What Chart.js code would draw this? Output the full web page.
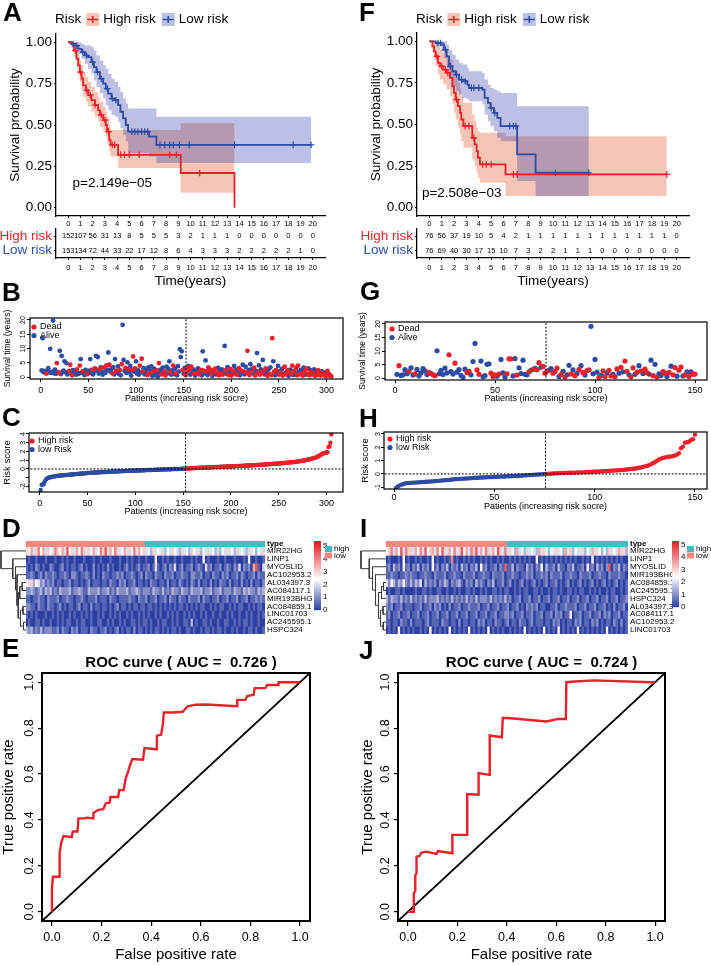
<!DOCTYPE html>
<html>
<head>
<meta charset="utf-8">
<script src="https://cdn.jsdelivr.net/npm/chart.js@4.4.1/dist/chart.umd.min.js"></script>
<style>
  body { margin: 0; background: #fff; }
  #fig { position: relative; width: 711px; height: 965px; overflow: hidden; background: #fff; }
  #fig canvas { position: absolute; }
  .tag { position: absolute; font: bold 26px "Liberation Sans", Arial, sans-serif; line-height: 26px; color: #000; }
</style>
</head>
<body>
<div id="fig"></div>
<script>
// ---------- Kaplan-Meier data (A: training, F: validation) ----------
const kmYears = [0,1,2,3,4,5,6,7,8,9,10,11,12,13,14,15,16,17,18,19,20];
const kmSurvTicks = [0, 0.25, 0.5, 0.75, 1];
const riskGroups = ['High risk', 'Low risk'];

const kmA_highT = [0,0.27,0.46,0.68,0.82,0.95,1.09,1.22,1.44,1.63,1.90,2.18,2.45,2.59,2.86,3.07,3.18,3.35,3.46,4.08,9.20,13.60];
const kmA_highS = [1,0.99,0.95,0.90,0.86,0.82,0.78,0.74,0.71,0.68,0.65,0.62,0.59,0.56,0.53,0.50,0.46,0.41,0.38,0.32,0.21,0];
const kmA_highUp = [1,1,1,0.97,0.93,0.89,0.86,0.82,0.79,0.76,0.73,0.70,0.67,0.64,0.61,0.58,0.55,0.50,0.47,0.47,0.51,0.51];
const kmA_highLo = [1,0.97,0.91,0.85,0.80,0.76,0.71,0.67,0.64,0.61,0.58,0.55,0.52,0.49,0.46,0.43,0.39,0.34,0.31,0.24,0.09,0.09];
const kmA_highCens = [0.6,1.0,1.5,1.8,2.2,2.7,3.0,3.3,3.6,3.8,4.3,4.6,5.0,5.8,8.3,8.85,10.75];

const kmA_lowT = [0,0.27,0.54,0.82,1.09,1.36,1.63,1.90,2.10,2.31,2.59,2.86,3.07,3.27,3.54,3.81,4.08,4.27,4.49,4.71,4.90,6.61,7.21,19.86];
const kmA_lowS = [1,0.99,0.98,0.96,0.94,0.92,0.91,0.88,0.85,0.82,0.78,0.75,0.72,0.69,0.66,0.65,0.62,0.58,0.54,0.50,0.46,0.43,0.38,0.38];
const kmA_lowUp = [1,1,1,1,0.99,0.98,0.98,0.97,0.95,0.92,0.89,0.86,0.84,0.81,0.78,0.76,0.73,0.70,0.66,0.63,0.60,0.60,0.55,0.55];
const kmA_lowLo = [1,0.97,0.96,0.93,0.90,0.87,0.84,0.81,0.77,0.73,0.69,0.66,0.62,0.59,0.56,0.55,0.52,0.48,0.44,0.40,0.33,0.31,0.27,0.27];
const kmA_lowCens = [0.4,0.7,1.2,1.5,2.0,2.4,2.7,3.2,3.6,3.9,5.2,5.45,5.7,6.0,6.25,6.5,7.5,7.9,8.3,8.6,9.1,9.9,13.6,18.4,19.86];

const kmF_highT = [0,0.24,0.38,0.51,0.70,0.86,1.13,1.40,1.67,1.86,1.99,2.13,2.31,2.48,2.58,2.75,3.47,3.66,3.82,3.93,4.09,6.16,19.20];
const kmF_highS = [1,0.97,0.94,0.91,0.87,0.85,0.83,0.81,0.78,0.73,0.69,0.65,0.61,0.57,0.53,0.49,0.42,0.38,0.34,0.30,0.26,0.20,0.20];
const kmF_highUp = [1,1,1,0.99,0.97,0.95,0.93,0.91,0.89,0.85,0.82,0.78,0.75,0.71,0.67,0.63,0.56,0.52,0.48,0.46,0.45,0.43,0.43];
const kmF_highLo = [1,0.93,0.89,0.85,0.80,0.77,0.74,0.71,0.67,0.62,0.57,0.53,0.48,0.44,0.40,0.36,0.29,0.25,0.21,0.18,0.15,0.07,0.07];
const kmF_highCens = [0.6,1.0,1.3,1.5,2.2,2.9,3.2,3.6,4.3,4.6,5.0,6.8,7.1,19.2];

const kmF_lowT = [0,0.51,0.97,1.18,1.40,1.59,1.86,2.13,2.40,2.66,3.07,3.20,4.28,4.47,4.74,4.95,5.22,5.49,5.76,7.10,8.59,12.90];
const kmF_lowS = [1,0.99,0.98,0.95,0.91,0.85,0.82,0.80,0.77,0.76,0.74,0.72,0.71,0.66,0.63,0.60,0.57,0.54,0.49,0.32,0.21,0.21];
const kmF_lowUp = [1,1,1,1,0.98,0.95,0.92,0.89,0.87,0.86,0.84,0.82,0.81,0.77,0.74,0.72,0.71,0.70,0.69,0.61,0.61,0.61];
const kmF_lowLo = [1,0.97,0.94,0.90,0.84,0.78,0.73,0.70,0.68,0.66,0.65,0.64,0.62,0.56,0.52,0.49,0.46,0.42,0.40,0.16,0.07,0.07];
const kmF_lowCens = [0.7,0.9,1.3,1.7,2.2,2.6,2.9,3.4,3.6,4.0,5.0,5.3,6.5,6.8,7.0,10.2,12.9];

// number at risk
const atRiskA_high = [152,107,56,31,13,8,5,5,5,3,2,1,1,1,0,0,0,0,0,0,0];
const atRiskA_low  = [153,134,72,44,33,22,17,12,8,6,4,3,3,3,2,2,2,2,2,1,0];
const atRiskF_high = [76,56,37,19,10,5,4,2,1,1,1,1,1,1,1,1,1,1,1,1,0];
const atRiskF_low  = [76,69,40,30,17,15,10,7,3,2,2,1,1,1,0,0,0,0,0,0,0];

// ---------- survival status per patient (B, G), sorted by risk score ----------
const survB = [2.3,13.6,1.7,2.1,1.4,1.2,1.8,3.1,1.6,9.9, 1.5,1.9,19.8,1.3,2.6,1.1,4.9,1.7,1.5,9.2,
  1.0,7.4,1.8,2.2,5.5,1.6,4.9,0.9,1.3,2.1, 4.3,1.7,0.6,2.4,1.2,1.9,0.8,2.7,1.4,1.1,
  4.0,6.3,1.5,2.0,1.3,0.7,2.5,1.8,1.0,1.6, 2.2,6.3,1.4,2.6,0.9,1.8,3.0,7.4,2.3,7.0,
  1.2,2.9,3.4,1.7,0.8,3.3,2.0,1.5,4.1,2.6, 8.6,4.3,1.9,2.7,1.3,3.5,0.9,6.3,2.2,1.6,
  3.7,1.1,2.4,0.6,4.5,18.3,6.0,2.1,3.2,1.4, 5.1,2.8,1.7,3.9,0.5,2.6,7.2,1.9,3.0,5.5,
  1.2,2.5,0.8,4.0,1.6,6.4,2.0,3.1,0.9,1.5, 2.7,0.7,3.4,1.3,2.2,3.7,0.4,1.8,2.9,0.6,
  1.1,2.4,0.3,4.9,1.7,2.6,0.9,3.3,1.4,2.0, 0.5,3.6,1.2,2.8,5.5,1.6,0.8,2.3,4.0,1.0,
  2.9,1.3,0.6,3.8,1.9,9.8,7.0,9.0,2.4,1.1,3.2,0.7,
  1.5,3.3,3.9,2.4,0.8,3.6,1.9,2.7,1.2,0.5, 2.1,1.4,3.0,0.9,1.7,2.5,0.6,9.0,2.2,1.3,
  5.8,2.0,0.7,3.4,1.6,2.6,1.0,0.4,2.3,1.8, 2.9,0.9,1.5,3.2,0.6,2.0,1.2,2.7,0.8,1.6,
  10.9,2.4,1.1,3.5,0.7,1.9,2.8,0.5,1.4,2.2, 3.9,1.0,2.6,0.8,1.7,3.1,0.6,2.3,1.3,4.3,
  2.0,0.9,3.6,1.5,9.2,2.5,0.7,4.5,1.8,2.9, 1.2,3.3,0.5,2.1,8.4,1.6,4.1,0.8,2.7,1.4,
  6.0,2.2,0.9,3.0,1.7,0.4,2.6,1.1,3.4,0.7, 13.6,5.5,1.9,0.6,2.4,1.3,3.9,0.8,2.0,1.5,
  2.8,0.5,1.2,3.6,0.9,1.8,2.3,0.4,1.6,2.6, 1.0,4.0,0.7,2.1,1.4,3.2,0.6,4.0,1.9,0.9,
  2.5,1.3,0.5,3.3,1.8,0.8,2.9,1.1,3.0,0.6, 1.7,2.3,0.9,1.4,2.7,0.4,1.9,0.7,2.4,1.2,
  1.6,0.5,2.0,1.0,0.8,1.5,0.3,1.3,2.1,0.6,0.9,0.4,0.2];
const deadB = ['0000010000','0000001010','0000000001','1010000100','1001000010','0001001000','0100010010',
  '0100100010','0010100010','0100011010','0001011000','0101000100','0101001001','1000010010','010000001001',
  '1101010010','0101010010','0101011010','1010101010','0100101101','0101010100','1001101010','0110010101',
  '0101010101','1010100101','0101101010','1101011101','0110101101','1011010110','1101101110111'].join('');
const lowCountB = 152;

const survG = [1.4,4.6,1.0,1.2,3.1,1.6,2.4,3.8,1.1,1.5, 3.2,0.8,1.9,3.5,2.7,1.3,2.0,1.7,1.2,0.9,
  10.1,1.6,2.9,1.3,3.7,1.9,8.6,2.4,1.5,5.5, 2.2,3.1,1.0,0.3,3.3,2.0,2.5,1.2,6.1,12.8,
  3.0,1.4,6.3,0.5,0.9,5.1,5.3,1.8,0.6,1.2, 0.7,1.5,6.9,1.9,0.4,1.6,7.1,7.1,0.8,7.2,
  1.1,3.8,1.7,6.6,1.4,1.2,2.3,2.9,3.2,3.6, 3.1,5.7,4.0,4.3,1.8,
  2.6,2.9,3.5,1.8,2.4,3.7,0.6,1.3,2.5,0.4, 1.2,4.7,1.5,3.0,0.9,1.7,3.1,4.6,2.0,1.1,
  2.8,3.0,19.1,1.6,6.9,2.2,0.3,1.0,2.7,0.6, 1.9,2.9,0.8,1.4,0.5,3.4,1.8,4.0,2.3,6.3,
  2.5,1.2,0.5,3.8,1.4,2.2,4.6,2.6,1.7,3.3, 2.0,1.5,6.6,0.9,5.1,0.4,1.6,1.0,2.4,1.8,
  0.6,2.1,4.4,1.2,3.9,0.7,2.9,4.1,0.8,1.1, 2.3,0.6,2.3,1.4,1.5];
const deadG = ['0100001001','0000001011','0000001001','0000011000','1100000111','0100011100','1000001010','11011',
  '1001110101','0010101010','1100001011','0110110101','1011010101','1001010011','0101101101','01011'].join('');
const lowCountG = 75;

// ---------- risk scores (C, H), sorted ----------
const riskC = [-2.40,-1.80,-1.77,-1.74,-1.50,-1.30,-1.15,-1.07,-1.01,-0.97,
  -0.94,-0.91,-0.89,-0.87,-0.85,-0.83,-0.81,-0.80,-0.78,-0.77, -0.76,-0.75,-0.73,-0.72,-0.71,-0.70,-0.69,-0.68,-0.67,-0.66,
  -0.65,-0.64,-0.63,-0.62,-0.61,-0.60,-0.59,-0.58,-0.57,-0.56, -0.55,-0.54,-0.53,-0.52,-0.51,-0.50,-0.49,-0.48,-0.47,-0.46,
  -0.45,-0.45,-0.44,-0.43,-0.43,-0.42,-0.41,-0.41,-0.40,-0.39, -0.39,-0.38,-0.37,-0.37,-0.36,-0.35,-0.35,-0.34,-0.34,-0.33,
  -0.33,-0.32,-0.31,-0.31,-0.30,-0.30,-0.29,-0.29,-0.28,-0.28, -0.27,-0.27,-0.26,-0.26,-0.25,-0.25,-0.24,-0.24,-0.23,-0.23,
  -0.22,-0.22,-0.21,-0.21,-0.20,-0.20,-0.20,-0.19,-0.19,-0.18, -0.18,-0.17,-0.17,-0.16,-0.16,-0.16,-0.15,-0.15,-0.14,-0.14,
  -0.13,-0.13,-0.13,-0.12,-0.12,-0.11,-0.11,-0.10,-0.10,-0.10, -0.09,-0.09,-0.08,-0.08,-0.07,-0.07,-0.07,-0.06,-0.06,-0.05,
  -0.05,-0.05,-0.04,-0.04,-0.03,-0.03,-0.03,-0.02,-0.02,-0.01, -0.01,-0.01,0.00,0.00,0.00,0.01,0.01,0.01,0.02,0.02,0.03,0.03,
  0.04,0.05,0.06,0.07,0.08,0.09,0.09,0.10,0.11,0.11, 0.12,0.12,0.13,0.13,0.14,0.14,0.15,0.15,0.16,0.16,
  0.17,0.17,0.18,0.18,0.19,0.19,0.20,0.20,0.21,0.21, 0.22,0.22,0.23,0.23,0.24,0.24,0.25,0.25,0.26,0.26,
  0.27,0.27,0.28,0.28,0.29,0.29,0.30,0.30,0.31,0.31, 0.32,0.32,0.33,0.33,0.34,0.34,0.35,0.35,0.36,0.36,
  0.37,0.37,0.38,0.39,0.39,0.40,0.40,0.41,0.42,0.42, 0.43,0.44,0.44,0.45,0.46,0.46,0.47,0.48,0.48,0.49,
  0.50,0.50,0.51,0.52,0.53,0.53,0.54,0.55,0.56,0.56, 0.57,0.58,0.59,0.59,0.60,0.61,0.62,0.63,0.64,0.65,
  0.66,0.67,0.68,0.69,0.70,0.71,0.72,0.73,0.74,0.75, 0.76,0.77,0.78,0.79,0.81,0.82,0.84,0.85,0.87,0.89,
  0.91,0.93,0.95,0.97,0.99,1.01,1.03,1.05,1.08,1.10, 1.13,1.16,1.19,1.22,1.25,1.29,1.33,1.37,1.42,1.48,
  1.55,1.62,1.70,1.76,1.80,1.83,1.86,1.88,1.91,2.50,2.60,3.00,3.95];
const lowCountC = 152;
const riskH = [-1.05,-0.92,-0.84,-0.79,-0.74,-0.70,-0.68,-0.67,-0.66,-0.65, -0.64,-0.63,-0.62,-0.61,-0.60,-0.59,-0.58,-0.57,-0.56,-0.55,
  -0.53,-0.52,-0.50,-0.49,-0.47,-0.46,-0.45,-0.43,-0.42,-0.40, -0.39,-0.38,-0.37,-0.36,-0.35,-0.34,-0.33,-0.32,-0.31,-0.30,
  -0.29,-0.28,-0.27,-0.27,-0.26,-0.25,-0.24,-0.24,-0.23,-0.22, -0.21,-0.21,-0.20,-0.19,-0.19,-0.18,-0.17,-0.17,-0.16,-0.16,
  -0.15,-0.14,-0.13,-0.12,-0.11,-0.10,-0.09,-0.08,-0.07,-0.06, -0.05,-0.04,-0.03,-0.02,-0.01,
  0.00,0.01,0.02,0.03,0.04,0.05,0.06,0.06,0.07,0.08, 0.08,0.09,0.09,0.10,0.10,0.11,0.11,0.12,0.12,0.13,
  0.14,0.15,0.15,0.16,0.17,0.18,0.18,0.19,0.20,0.21, 0.22,0.23,0.24,0.25,0.26,0.27,0.28,0.29,0.30,0.31,
  0.33,0.35,0.37,0.39,0.41,0.43,0.46,0.49,0.53,0.57, 0.60,0.65,0.72,0.80,0.88,0.98,1.08,1.15,1.20,1.24,
  1.27,1.29,1.31,1.34,1.38,1.45,1.55,1.93,2.05,2.35, 2.38,2.42,2.55,2.60,2.95];
const lowCountH = 75;

const patientTicksB = [0, 50, 100, 150, 200, 250, 300];
const patientTicksG = [0, 50, 100, 150];
const survTimeTicks = [0, 5, 10, 15, 20];
const riskTicksC = [-2, -1, 0, 1, 2, 3, 4];
const riskTicksH = [-1, 0, 1, 2, 3];

// ---------- heatmaps (D, I): one digit per patient block, value = digit / 2 ----------
const genesD = ['MIR22HG','LINP1','MYOSLID','AC102953.2','AL034397.3','AC084117.1','MIR193BHG','AC084859.1','LINC01703','AC245595.1','HSPC324'];
const heatD = [
  ['6574685746','5486574956','4758646574','5869475864','5746584756','4536454635','4654364536','5463546453','6354645364','5436453546'],
  ['0100100010','0010010100','1000100010','0100010001','0010100100','1000500101','0010010001','0100501000','1001000100','0105001001'],
  ['1010210100','2100120101','1012010020','1010201001','0120101201','1201410120','2140120112','0121041201','1201210214','0212079104'],
  ['1121012021','1210112102','2101121020','1021101121','2011210120','2110211021','1201121102','2112011021','1021201120','2101120211'],
  ['5463542312','1201101120','1101012011','1011021102','1201120110','1021101102','0110210102','1020110201','0211020110','2010201102'],
  ['2232123132','3121322231','2232113222','3122312132','2231223212','2213221312','1322132213','2223122312','2312221322','1323221323'],
  ['1101121102','1112011211','0112101112','0111021101','1112110211','2011201120','2110211021','1120211011','2011201120','1120112121'],
  ['2211021102','1101201011','0120110201','1011010120','1101011011','0110101010','1010110101','0101100101','0110010101','1001010110'],
  ['1010100010','0101010010','1001010100','1010010101','0010100101','0100101001','0101001010','1001010010','0100101001','0010100101'],
  ['0100110100','1001010110','0101100100','1100101001','0100110101','1010010110','0101001103','0100110100','1001100101','0110100100'],
  ['3231213122','2112021102','1201110211','0112010120','1011020110','1010110101','0110100110','1001011010','1101001010','0101101001']
].map(r => r.join(''));
const genesI = ['MIR22HG','LINP1','MYOSLID','MIR193BHG','AC084859.1','AC245595.1','HSPC324','AL034397.3','AC084117.1','AC102953.2','LINC01703'];
const heatI = [
  ['5684759486','6475849567','4859647584','6957486947','5864759648','4653745364','5437465354','6453746354','4635474653','5364547463'],
  ['0100010501','0010100105','0100101801','0010101001','0101001010','0101010101','0050101010','1010101010','0101050101','0101010100'],
  ['1203120512','0213021205','1202130212','0312021305','1201120219','1130211031','2021503112','0311021301','1205120312','0290213021'],
  ['1121101121','2110112110','2111201121','1021112011','2110211120','1121101121','2011212021','1120112110','2111201121','1021112110'],
  ['4253132521','3132403121','2021320212','3102120312','1021301120','1201012010','1201012011','2010120101','2010120101','2010120101'],
  ['0100110100','0010011010','0110010010','1001101001','0100110101','1001010110','0110100101','1010011010','1100101010','0101100101'],
  ['3132213121','3121213122','2312121312','1213121312','2213121213','1201120112','0112011201','1201120112','0112011201','1201120112'],
  ['2120112011','1011201120','2120102011','2011211120','1120112011','2011201021','2120110011','2011211120','1120112011','2010201120'],
  ['1201120112','0112011201','1201120112','0112011201','1201120112','2120112011','2011201120','2120115011','2011201120','2120112011'],
  ['1101102110','2011101201','1102110110','2011011021','2011021101','2011021101','2011101102','1201011021','2011021201','0110210201'],
  ['0101050101','0100101050','1010105010','1010501010','1050101010','0101010501','0101050101','0501010105','0101010101','0501010101']
].map(r => r.join(''));
const colorbarTicks = [0, 1, 2, 3, 4, 5];
// dendrogram merges: [a, b, height]; negative = gene row (1-based), positive = earlier merge
const dendroD = [[-10,-11,1.0],[-8,-9,1.2],[2,1,2.2],[-5,-6,1.5],[4,-7,2.5],[5,3,3.1],[-4,6,3.6],[-3,7,4.2],[-2,8,5.3],[-1,9,10]];
const dendroI = [[-5,-6,1.0],[1,-7,1.8],[-8,-9,1.2],[-10,-11,1.1],[3,4,2.2],[2,5,3.0],[-4,6,4.2],[-3,7,5.4],[-2,8,6.7],[-1,9,10]];

// ---------- ROC (E, J) ----------
const rocE_fpr = [0,0,0.004,0.031,0.031,0.037,0.047,0.08,0.084,0.103, 0.107,0.133,0.14,0.167,0.167,0.187,0.207,0.217,0.233,0.236,
  0.267,0.271,0.289,0.297,0.307,0.313,0.324,0.367,0.373,0.42, 0.423,0.44,0.447,0.451,0.487,0.527,0.547,0.58,0.62,0.747,
  0.747,0.78,0.787,0.813,0.817,0.86,0.867,0.913,0.913,0.96,1.0];
const rocE_tpr = [0,0.10,0.153,0.153,0.255,0.30,0.33,0.325,0.35,0.35, 0.407,0.407,0.41,0.407,0.43,0.444,0.447,0.473,0.476,0.50,
  0.50,0.53,0.53,0.58,0.61,0.633,0.665,0.662,0.713,0.708, 0.767,0.771,0.815,0.868,0.868,0.871,0.895,0.902,0.903,0.895,
  0.923,0.923,0.94,0.945,0.974,0.974,0.988,0.988,1.0,1.0,1.0];
const rocJ_fpr = [0,0.024,0.024,0.03,0.03,0.035,0.035,0.047,0.054,0.074, 0.115,0.122,0.18,0.18,0.24,0.24,0.284,0.286,0.331,0.331,
  0.38,0.384,0.404,0.561,0.608,0.639,0.641,0.676,0.75,0.985,1.0];
const rocJ_tpr = [0,0,0.08,0.09,0.16,0.167,0.24,0.243,0.257,0.262, 0.252,0.265,0.255,0.335,0.335,0.513,0.51,0.604,0.596,0.768,
  0.76,0.844,0.844,0.829,0.84,0.84,1.0,1.003,1.008,1.0,1.0];
const rocTicks = [0, 0.2, 0.4, 0.6, 0.8, 1.0];
const rocDiag = [-0.04, 1.04];

// ---------- styles ----------
const FONT = '"Liberation Sans", Arial, Helvetica, sans-serif';
const RED = '#E8202A';
const BLUE = '#2B4CA2';
const PINK_FILL = 'rgba(236,110,70,0.40)';
const BLUE_FILL = 'rgba(50,60,170,0.32)';
const LOW_TYPE = '#F4877D';
const HIGH_TYPE = '#3CBEC4';
const HEAT_LOW = [44, 62, 160], HEAT_MID = [255, 255, 255], HEAT_HIGH = [226, 28, 34];
const colorbarRangeD = [0, 5.4], colorbarRangeI = [0, 5.3];

Chart.defaults.font.family = FONT;
Chart.defaults.color = '#000';
Chart.defaults.animation = false;
Chart.defaults.events = [];
Chart.defaults.plugins.legend.display = false;
Chart.defaults.plugins.tooltip.enabled = false;

const fig = document.getElementById('fig');

function addCanvas(left, top, width, height) {
  const c = document.createElement('canvas');
  c.width = width; c.height = height;
  c.style.left = left + 'px'; c.style.top = top + 'px';
  c.style.width = width + 'px'; c.style.height = height + 'px';
  fig.appendChild(c);
  return c;
}
// fixed axis sizes; label overflow padding is cleared so the plot box stays where the layout padding puts it
const fixedWidth = w => s => { s.width = w; s.paddingTop = 0; s.paddingBottom = 0; };
const fixedHeight = h => s => { s.height = h; s.paddingLeft = 0; s.paddingRight = 0; };
const setTicks = vals => s => { s.ticks = vals.map(v => ({value: v})); };
const tickGrid = (len, w) => ({display: true, drawOnChartArea: false, drawTicks: true, tickLength: len, color: '#000', lineWidth: w || 1});

function heatColor(v) {
  const mid = 2.4, max = 5.3;
  let a, b, f;
  if (v <= mid) { a = HEAT_LOW; b = HEAT_MID; f = Math.max(v, 0) / mid; }
  else { a = HEAT_MID; b = HEAT_HIGH; f = Math.min((v - mid) / (max - mid), 1); }
  return 'rgb(' + a.map((c, i) => Math.round(c + (b[i] - c) * f)).join(',') + ')';
}

// ---------- plugins ----------
const framePlugin = {
  id: 'frame',
  afterDatasetsDraw(chart, args, o) {
    const {ctx, chartArea: a} = chart;
    ctx.save();
    ctx.strokeStyle = '#000';
    ctx.lineWidth = o.width || 1;
    ctx.strokeRect(a.left, a.top, a.right - a.left, a.bottom - a.top);
    ctx.restore();
  }
};

const kmDecorPlugin = {
  id: 'kmDecor',
  afterDraw(chart, args, o) {
    const {ctx, chartArea: a, scales: {x, y}} = chart;
    ctx.save();
    ctx.fillStyle = '#000';
    ctx.textBaseline = 'middle';
    ctx.textAlign = 'left';
    ctx.font = '13.5px ' + FONT;
    ctx.fillText(o.pText, x.getPixelForValue(o.pAt[0]), y.getPixelForValue(o.pAt[1]));
    let lx = a.left - 1;
    const ly = 19.5;
    ctx.fillText('Risk', lx, ly);
    lx += ctx.measureText('Risk').width + 5;
    o.keys.forEach(k => {
      ctx.fillStyle = k.fill;
      ctx.fillRect(lx, ly - 6.5, 13, 13);
      ctx.strokeStyle = k.color;
      ctx.lineWidth = 1.6;
      ctx.beginPath();
      ctx.moveTo(lx + 1, ly); ctx.lineTo(lx + 12, ly);
      ctx.moveTo(lx + 6.5, ly - 3.5); ctx.lineTo(lx + 6.5, ly + 3.5);
      ctx.stroke();
      lx += 17;
      ctx.fillStyle = '#000';
      ctx.fillText(k.label, lx, ly);
      lx += ctx.measureText(k.label).width + 6;
    });
    ctx.restore();
  }
};

const riskTablePlugin = {
  id: 'riskTable',
  afterDraw(chart, args, o) {
    const {ctx, scales: {x, y}} = chart;
    ctx.save();
    ctx.font = '7.5px ' + FONT;
    ctx.fillStyle = '#000';
    ctx.textAlign = 'center';
    ctx.textBaseline = 'middle';
    o.rows.forEach((vals, r) => vals.forEach((v, i) => {
      ctx.fillText(String(v), x.getPixelForValue(kmYears[i]), y.getPixelForValue(r));
    }));
    ctx.restore();
  }
};

const inLegendPlugin = {
  id: 'inLegend',
  afterDatasetsDraw(chart, args, o) {
    const {ctx, chartArea: a} = chart;
    ctx.save();
    ctx.font = '9px ' + FONT;
    ctx.textBaseline = 'middle';
    ctx.textAlign = 'left';
    o.items.forEach((it, i) => {
      const y = a.top + o.dy + i * o.gap;
      ctx.fillStyle = it.color;
      ctx.beginPath();
      ctx.arc(a.left + o.dx, y, 2.6, 0, Math.PI * 2);
      ctx.fill();
      ctx.fillStyle = '#000';
      ctx.fillText(it.label, a.left + o.dx + 6, y);
    });
    ctx.restore();
  }
};

const heatLegendPlugin = {
  id: 'heatLegend',
  afterDraw(chart, args, o) {
    const {ctx, chartArea: a} = chart;
    const bx = a.right + o.barDx, top = a.top, bottom = a.top + o.barH;
    const [lo, hi] = o.range;
    ctx.save();
    for (let py = top; py < bottom; py++) {
      ctx.fillStyle = heatColor(hi - (py - top + 0.5) / (bottom - top) * (hi - lo));
      ctx.fillRect(bx, py, 7, 1.2);
    }
    ctx.font = '8px ' + FONT;
    ctx.fillStyle = '#000';
    ctx.textAlign = 'left';
    ctx.textBaseline = 'middle';
    colorbarTicks.forEach(v => ctx.fillText(String(v), bx + 9, bottom - (v - lo) / (hi - lo) * (bottom - top)));
    [{label: 'high', color: HIGH_TYPE}, {label: 'low', color: LOW_TYPE}].forEach((t, i) => {
      const ty = top + 5 + i * 6.5;
      ctx.fillStyle = t.color;
      ctx.fillRect(a.right + o.keyDx, ty, 7, 6);
      ctx.fillStyle = '#000';
      ctx.fillText(t.label, a.right + o.keyDx + 9, ty + 3);
    });
    ctx.restore();
  }
};

const rocTitlePlugin = {
  id: 'rocTitle',
  afterDraw(chart, args, o) {
    const {ctx, chartArea: a} = chart;
    ctx.save();
    ctx.font = 'bold 15px ' + FONT;
    ctx.fillStyle = '#000';
    ctx.textAlign = 'center';
    ctx.textBaseline = 'middle';
    ctx.fillText(o.text, (a.left + a.right) / 2 + o.dx, 15);
    ctx.restore();
  }
};

// ---------- chart builders ----------
function drawKM(L, km, pText, pAt) {
  const cv = addCanvas(L.left, 0, L.width, 230);
  const xy = (t, v) => t.map((x, i) => ({x, y: v[i]}));
  const survAt = (g, x) => { let v = g.s[0]; g.t.forEach((ti, i) => { if (ti <= x) v = g.s[i]; }); return v; };
  const band = (g, fill) => [
    {type: 'line', data: xy(g.t, g.up), stepped: true, borderWidth: 0, borderColor: 'transparent', pointRadius: 0, fill: false, order: 5},
    {type: 'line', data: xy(g.t, g.lo), stepped: true, borderWidth: 0, borderColor: 'transparent', pointRadius: 0, fill: '-1', backgroundColor: fill, order: 5}
  ];
  const curve = (g, color) => ({type: 'line', data: xy(g.t, g.s), stepped: true, borderColor: color, borderWidth: 1.8, pointRadius: 0, fill: false, order: 2});
  const marks = (g, color) => ({type: 'scatter', data: g.cens.map(x => ({x, y: survAt(g, x)})), pointStyle: 'cross', pointRadius: 3.3, borderColor: color, borderWidth: 1.2, order: 1});
  new Chart(cv, {
    type: 'scatter',
    data: {datasets: [...band(km.low, BLUE_FILL), ...band(km.high, PINK_FILL), curve(km.high, RED), curve(km.low, BLUE), marks(km.high, RED), marks(km.low, BLUE)]},
    options: {
      responsive: false,
      layout: {autoPadding: false, padding: {left: 0, right: L.padR, top: L.padT, bottom: 0}},
      scales: {
        x: {type: 'linear', min: -1, max: 21, afterBuildTicks: setTicks(kmYears), afterFit: fixedHeight(14),
            grid: tickGrid(2), border: {display: true, color: '#000', width: 1.3},
            ticks: {font: {size: 7.5}, padding: 1, maxRotation: 0, autoSkip: false}},
        y: {type: 'linear', min: -0.05, max: 1.05, afterBuildTicks: setTicks(kmSurvTicks), afterFit: fixedWidth(L.yw),
            grid: tickGrid(2), border: {display: true, color: '#000', width: 1.3},
            ticks: {font: {size: 13.5}, padding: 2, callback: v => v.toFixed(2)},
            title: {display: true, text: 'Survival probability', font: {size: 13.5}, padding: {top: L.titlePad, bottom: 0}}}
      },
      plugins: {kmDecor: {pText, pAt, keys: [{label: 'High risk', color: RED, fill: PINK_FILL}, {label: 'Low risk', color: BLUE, fill: BLUE_FILL}]}}
    },
    plugins: [kmDecorPlugin]
  });
}

function drawRiskTable(L, rows) {
  const cv = addCanvas(L.left, 226, L.width, 64);
  new Chart(cv, {
    type: 'scatter',
    data: {datasets: []},
    options: {
      responsive: false,
      layout: {autoPadding: false, padding: {left: 0, right: L.padR, top: 3, bottom: 0}},
      scales: {
        x: {type: 'linear', min: -1, max: 21, afterBuildTicks: setTicks(kmYears), afterFit: fixedHeight(32),
            grid: tickGrid(2), border: {display: true, color: '#000', width: 1.3},
            ticks: {font: {size: 7.5}, padding: 3, maxRotation: 0, autoSkip: false},
            title: {display: true, text: 'Time(years)', font: {size: 13.5}, padding: {top: 0, bottom: 1}}},
        y: {type: 'category', labels: riskGroups, offset: true, afterFit: fixedWidth(L.yw),
            grid: tickGrid(2), border: {display: true, color: '#000', width: 1.3},
            ticks: {font: {size: 13.5}, padding: 2, autoSkip: false, color: c => (c.index === 0 ? RED : BLUE)}}
      },
      plugins: {riskTable: {rows}}
    },
    plugins: [riskTablePlugin]
  });
}

function drawPatientPlot(P) {
  const cv = addCanvas(P.left, P.top, P.width, 105);
  const datasets = P.groups.map(g => ({data: g.points, backgroundColor: g.color, pointBorderWidth: 0, borderWidth: 0, pointRadius: P.dot, order: g.order}));
  P.guides.forEach(gd => datasets.push({type: 'line', data: gd, borderColor: '#000', borderWidth: 1, borderDash: [2, 1.5], pointRadius: 0, fill: false, order: 0}));
  new Chart(cv, {
    type: 'scatter',
    data: {datasets},
    options: {
      responsive: false,
      layout: {autoPadding: false, padding: {left: 0, right: P.padR, top: P.padT, bottom: 0}},
      scales: {
        x: {type: 'linear', min: P.xRange[0], max: P.xRange[1], afterBuildTicks: setTicks(P.xTicks), afterFit: fixedHeight(P.xh),
            grid: tickGrid(3), border: {display: false},
            ticks: {font: {size: 9}, padding: P.xPad, maxRotation: 0, autoSkip: false},
            title: {display: true, text: 'Patients (increasing risk socre)', font: {size: 9}, padding: {top: 0, bottom: P.xTitlePad}}},
        y: {type: 'linear', min: P.yRange[0], max: P.yRange[1], afterBuildTicks: setTicks(P.yTicks), afterFit: fixedWidth(P.yw),
            grid: tickGrid(3), border: {display: false},
            ticks: {font: {size: 7}, padding: 0, minRotation: 90, maxRotation: 90, crossAlign: 'center', autoSkip: false,
                    callback: v => (P.hideTick === v ? '' : String(v))},
            title: {display: true, text: P.yTitle, font: {size: P.yTitleSize}, padding: {top: P.yTitlePad, bottom: 0}}}
      },
      plugins: {frame: {width: 1.2}, inLegend: {items: P.legend, dx: P.legDx, dy: P.legDy, gap: 8.5}}
    },
    plugins: [framePlugin, inLegendPlugin]
  });
}

function drawHeatmap(L, rows, genes, colorRange) {
  const cv = addCanvas(L.left, 536, L.width, 100);
  const nCol = rows[0].length;
  const cols = Array.from({length: nCol}, (_, i) => i);
  const bar = {grouped: false, barPercentage: 1, categoryPercentage: 1, borderWidth: 0, inflateAmount: 0.4};
  const datasets = [Object.assign({data: cols.map(() => [-0.8, -0.1]), backgroundColor: cols.map(c => (c < L.lowCols ? LOW_TYPE : HIGH_TYPE))}, bar)];
  rows.forEach((str, r) => datasets.push(Object.assign({data: cols.map(() => [r, r + 1]), backgroundColor: cols.map(c => heatColor(+str[c] / 2))}, bar)));
  const labels = ['type'].concat(genes);
  const tickVals = [-0.45].concat(genes.map((g, i) => i + 0.5));
  new Chart(cv, {
    type: 'bar',
    data: {labels: cols, datasets},
    options: {
      responsive: false,
      layout: {autoPadding: false, padding: {left: 0, right: 0, top: 5, bottom: 2}},
      scales: {
        x: {type: 'category', display: false, offset: true},
        y: {type: 'linear', min: -0.8, max: 11, reverse: true, position: 'right', afterBuildTicks: setTicks(tickVals),
            afterFit: fixedWidth(L.width - L.heatW), grid: {display: false, drawTicks: false}, border: {display: false},
            ticks: {autoSkip: false, padding: 2, font: c => ({size: 8, weight: c.index === 0 ? 'bold' : 'normal'}),
                    callback: (v, i) => labels[i]}}
      },
      plugins: {heatLegend: {barDx: L.barDx, barH: L.barH, keyDx: L.keyDx, range: colorRange}}
    },
    plugins: [heatLegendPlugin]
  });
}

function drawDendro(L, merges) {
  const cv = addCanvas(L.left, 547, L.width, 87);
  const pos = [];
  const node = ref => (ref < 0 ? {x: 0, y: -ref - 0.5} : pos[ref - 1]);
  const pts = [];
  merges.forEach(([a, b, h]) => {
    const na = node(a), nb = node(b);
    pts.push({x: na.x, y: na.y}, {x: h, y: na.y}, {x: h, y: nb.y}, {x: nb.x, y: nb.y}, {x: NaN, y: NaN});
    pos.push({x: h, y: (na.y + nb.y) / 2});
  });
  new Chart(cv, {
    type: 'scatter',
    data: {datasets: [{type: 'line', data: pts, borderColor: '#3a3a3a', borderWidth: 1, pointRadius: 0, spanGaps: false, fill: false}]},
    options: {
      responsive: false,
      layout: {autoPadding: false, padding: 0},
      scales: {
        x: {type: 'linear', display: false, min: 0, max: 10.4, reverse: true},
        y: {type: 'linear', display: false, min: 0, max: 11, reverse: true}
      }
    }
  });
}

function drawROC(L, fpr, tpr, title) {
  const cv = addCanvas(L.left, 648, L.width, 317);
  new Chart(cv, {
    type: 'scatter',
    data: {datasets: [
      {type: 'line', data: fpr.map((x, i) => ({x, y: tpr[i]})), borderColor: RED, borderWidth: 2.4, pointRadius: 0, fill: false, order: 0},
      {type: 'line', data: rocDiag.map((x, i) => ({x, y: rocDiag[i]})), borderColor: '#000', borderWidth: 1.8, pointRadius: 0, fill: false, order: 1}
    ]},
    options: {
      responsive: false,
      layout: {autoPadding: false, padding: {left: 0, right: L.padR, top: 25, bottom: 0}},
      scales: {
        x: {type: 'linear', min: -0.04, max: 1.04, afterBuildTicks: setTicks(rocTicks), afterFit: fixedHeight(44),
            grid: tickGrid(5, 1.2), border: {display: false},
            ticks: {font: {size: 12.5}, padding: 4, maxRotation: 0, autoSkip: false, callback: v => v.toFixed(1)},
            title: {display: true, text: 'False positive rate', font: {size: 15}, padding: {top: 0, bottom: 1}}},
        y: {type: 'linear', min: -0.04, max: 1.04, afterBuildTicks: setTicks(rocTicks), afterFit: fixedWidth(L.yw),
            grid: tickGrid(4, 1.2), border: {display: false},
            ticks: {font: {size: 12.5}, padding: 0, minRotation: 90, maxRotation: 90, crossAlign: 'center', autoSkip: false, callback: v => v.toFixed(1)},
            title: {display: true, text: 'True positive rate', font: {size: 15}, padding: {top: L.yTitlePad, bottom: 0}}}
      },
      plugins: {frame: {width: 2}, rocTitle: {text: title, dx: L.titleDx}}
    },
    plugins: [framePlugin, rocTitlePlugin]
  });
}

// ---------- assemble ----------
const kmA = {
  high: {t: kmA_highT, s: kmA_highS, up: kmA_highUp, lo: kmA_highLo, cens: kmA_highCens},
  low: {t: kmA_lowT, s: kmA_lowS, up: kmA_lowUp, lo: kmA_lowLo, cens: kmA_lowCens}
};
const kmF = {
  high: {t: kmF_highT, s: kmF_highS, up: kmF_highUp, lo: kmF_highLo, cens: kmF_highCens},
  low: {t: kmF_lowT, s: kmF_lowS, up: kmF_lowUp, lo: kmF_lowLo, cens: kmF_lowCens}
};
drawKM({left: 0, width: 340, yw: 56, padR: 15, padT: 34, titlePad: 7}, kmA, 'p=2.149e\u221205', [0.35, 0.15]);
drawKM({left: 355, width: 356, yw: 62, padR: 22, padT: 33, titlePad: 13}, kmF, 'p=2.508e\u221203', [-0.6, 0.085]);
drawRiskTable({left: 0, width: 340, yw: 56, padR: 15}, [atRiskA_high, atRiskA_low]);
drawRiskTable({left: 355, width: 356, yw: 62, padR: 22}, [atRiskF_high, atRiskF_low]);

function statusGroups(surv, dead) {
  const pick = flag => surv.map((y, i) => ({x: i + 1, y, d: dead[i]})).filter(p => p.d === flag).map(p => ({x: p.x, y: p.y}));
  return [{points: pick('0'), color: BLUE, order: 2}, {points: pick('1'), color: RED, order: 1}];
}
function riskGroupsOf(score, lowCount) {
  const pts = score.map((y, i) => ({x: i + 1, y}));
  return [{points: pts.slice(0, lowCount), color: BLUE, order: 2}, {points: pts.slice(lowCount), color: RED, order: 1}];
}
const rangeB = [-11.2, 317.2], rangeG = [-5, 156];

drawPatientPlot({left: 0, top: 300, width: 355, padR: 12, padT: 18, yw: 30, xh: 26, xPad: 3, xTitlePad: 0.6,
  xRange: rangeB, xTicks: patientTicksB, yRange: [-0.7, 20.7], yTicks: survTimeTicks, dot: 2.4,
  yTitle: 'Survival time (years)', yTitleSize: 8.5, yTitlePad: 3, groups: statusGroups(survB, deadB),
  guides: [[{x: lowCountB + 0.5, y: -5}, {x: lowCountB + 0.5, y: 30}]],
  legend: [{label: 'Dead', color: RED}, {label: 'Alive', color: BLUE}], legDx: 4, legDy: 9});
drawPatientPlot({left: 355, top: 300, width: 356, padR: 4, padT: 22, yw: 30, xh: 25, xPad: 2, xTitlePad: 0.6,
  xRange: rangeG, xTicks: patientTicksG, yRange: [-0.7, 20.7], yTicks: survTimeTicks, dot: 2.6,
  yTitle: 'Survival time (years)', yTitleSize: 8.5, yTitlePad: 3, groups: statusGroups(survG, deadG),
  guides: [[{x: lowCountG + 0.5, y: -5}, {x: lowCountG + 0.5, y: 30}]],
  legend: [{label: 'Dead', color: RED}, {label: 'Alive', color: BLUE}], legDx: 7, legDy: 7});
drawPatientPlot({left: 0, top: 415, width: 355, padR: 12, padT: 18, yw: 29, xh: 28, xPad: 3, xTitlePad: 2.6,
  xRange: rangeB, xTicks: patientTicksB, yRange: [-2.63, 4.11], yTicks: riskTicksC, hideTick: -1, dot: 2.2,
  yTitle: 'Risk score', yTitleSize: 9.5, yTitlePad: 1.3, groups: riskGroupsOf(riskC, lowCountC),
  guides: [[{x: lowCountC + 0.5, y: -5}, {x: lowCountC + 0.5, y: 10}], [{x: -50, y: 0}, {x: 400, y: 0}]],
  legend: [{label: 'High risk', color: RED}, {label: 'low Risk', color: BLUE}], legDx: 3, legDy: 8});
drawPatientPlot({left: 355, top: 415, width: 356, padR: 4, padT: 17, yw: 29, xh: 31, xPad: 0, xTitlePad: 7.6,
  xRange: rangeG, xTicks: patientTicksG, yRange: [-1.13, 3.15], yTicks: riskTicksH, dot: 2.2,
  yTitle: 'Risk score', yTitleSize: 9.5, yTitlePad: 4.3, groups: riskGroupsOf(riskH, lowCountH),
  guides: [[{x: lowCountH + 0.5, y: -5}, {x: lowCountH + 0.5, y: 10}], [{x: -50, y: 0}, {x: 400, y: 0}]],
  legend: [{label: 'High risk', color: RED}, {label: 'low Risk', color: BLUE}], legDx: 6, legDy: 7});

drawHeatmap({left: 26, width: 329, heatW: 239, lowCols: 50, barDx: 49, barH: 69, keyDx: 60}, heatD, genesD, colorbarRangeD);
drawHeatmap({left: 386, width: 325, heatW: 242, lowCols: 50, barDx: 44, barH: 66, keyDx: 59}, heatI, genesI, colorbarRangeI);
drawDendro({left: 0, width: 26}, dendroD);
drawDendro({left: 360, width: 26}, dendroI);

drawROC({left: 0, width: 355, yw: 42, padR: 45, yTitlePad: 0, titleDx: 5}, rocE_fpr, rocE_tpr, 'ROC curve ( AUC =  0.726 )');
drawROC({left: 355, width: 356, yw: 43, padR: 46, yTitlePad: 4, titleDx: 10}, rocJ_fpr, rocJ_tpr, 'ROC curve ( AUC =  0.724 )');

// panel letters
[['A', 3, -1], ['F', 359, -1], ['B', 2, 279], ['G', 360, 278], ['C', 2, 404], ['H', 359, 405],
 ['D', 2, 515], ['I', 360, 515], ['E', 2, 635], ['J', 359, 637]].forEach(([t, x, y]) => {
  const d = document.createElement('div');
  d.className = 'tag';
  d.textContent = t;
  d.style.left = x + 'px';
  d.style.top = y + 'px';
  fig.appendChild(d);
});
</script>
</body>
</html>
